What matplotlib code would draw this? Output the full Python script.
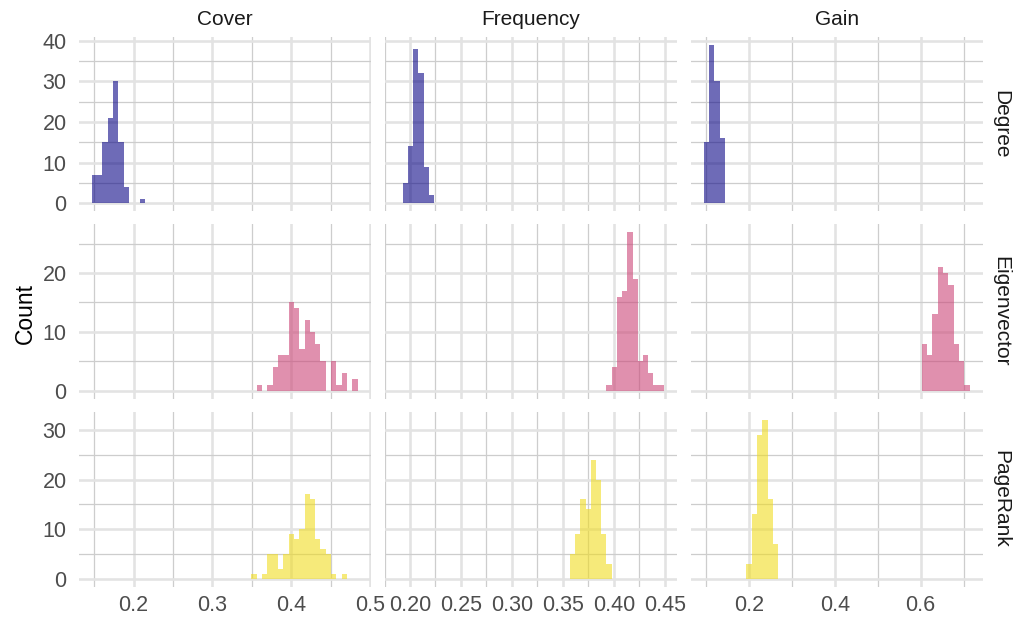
import matplotlib
matplotlib.use("Agg")
import matplotlib.pyplot as plt
import numpy as np

# ---------------- data ----------------
rows = ["Degree", "Eigenvector", "PageRank"]
cols = ["Cover", "Frequency", "Gain"]
row_colors = ["#0D0887", "#CC4678", "#F0DC22"]

n_bins = 50
bin_start = {"Cover": 0.14703, "Frequency": 0.19294, "Gain": 0.09416}
bin_width = {"Cover": 0.006746, "Frequency": 0.005122, "Gain": 0.012405}

# (first bin index, counts)
degree_cover = (0, [7, 7, 15, 21, 30, 15, 4, 0, 0, 1])
degree_frequency = (0, [5, 14, 38, 32, 9, 2])
degree_gain = (0, [15, 39, 30, 16])

eigen_cover = (31, [1, 0, 1, 4, 6, 6, 15, 14, 7, 12, 10, 8, 5, 0, 5, 1, 3, 0, 2])
eigen_frequency = (39, [1, 4, 16, 17, 27, 19, 5, 6, 3, 1, 1])
eigen_gain = (41, [8, 6, 13, 21, 20, 18, 8, 5, 1])

pagerank_cover = (30, [1, 0, 1, 5, 5, 2, 5, 9, 8, 10, 17, 16, 8, 6, 5, 1, 0, 1])
pagerank_frequency = (32, [5, 9, 16, 14, 24, 20, 9, 3])
pagerank_gain = (8, [3, 13, 29, 32, 16, 7])

panels = {
    ("Degree", "Cover"): degree_cover,
    ("Degree", "Frequency"): degree_frequency,
    ("Degree", "Gain"): degree_gain,
    ("Eigenvector", "Cover"): eigen_cover,
    ("Eigenvector", "Frequency"): eigen_frequency,
    ("Eigenvector", "Gain"): eigen_gain,
    ("PageRank", "Cover"): pagerank_cover,
    ("PageRank", "Frequency"): pagerank_frequency,
    ("PageRank", "Gain"): pagerank_gain,
}

x_major = {"Cover": [0.2, 0.3, 0.4, 0.5],
           "Frequency": [0.20, 0.25, 0.30, 0.35, 0.40, 0.45],
           "Gain": [0.2, 0.4, 0.6]}
x_minor = {"Cover": [0.15, 0.25, 0.35, 0.45],
           "Frequency": [0.175, 0.225, 0.275, 0.325, 0.375, 0.425],
           "Gain": [0.1, 0.3, 0.5, 0.7]}
x_labels = {"Cover": ["0.2", "0.3", "0.4", "0.5"],
            "Frequency": ["0.20", "0.25", "0.30", "0.35", "0.40", "0.45"],
            "Gain": ["0.2", "0.4", "0.6"]}
y_major = {"Degree": [0, 10, 20, 30, 40], "Eigenvector": [0, 10, 20],
           "PageRank": [0, 10, 20, 30]}
y_minor = {"Degree": [5, 15, 25, 35], "Eigenvector": [5, 15, 25],
           "PageRank": [5, 15, 25]}

# ---------------- layout ----------------
plt.rcParams["font.family"] = ["Liberation Sans", "DejaVu Sans"]
W, H = 1014, 620
fig = plt.figure(figsize=(W / 100, H / 100), dpi=100)
fig.patch.set_facecolor("white")

col_left = [78.5, 384.5, 690.5]
col_w = 292.5
row_top = [36.8, 224.0, 412.1]
row_h = 174.5

# y max per row from data
row_max = {r: max(max(panels[(r, c)][1]) for c in cols) for r in rows}

for i, r in enumerate(rows):
    for j, c in enumerate(cols):
        ax = fig.add_axes([col_left[j] / W, 1 - (row_top[i] + row_h) / H,
                           col_w / W, row_h / H])
        ax.set_facecolor("white")
        for s in ax.spines.values():
            s.set_visible(False)
        first, counts = panels[(r, c)]
        w = bin_width[c]
        lefts = bin_start[c] + w * (first + np.arange(len(counts)))
        ax.bar(lefts, counts, width=w, align="edge", color=row_colors[i],
               alpha=0.6, linewidth=0, zorder=3)
        span = n_bins * w
        x0 = bin_start[c]
        ax.set_xlim(x0 - 0.05 * span, x0 + 1.05 * span)
        ym = row_max[r]
        ax.set_ylim(-0.05 * ym, 1.05 * ym)
        ax.set_xticks(x_major[c])
        ax.set_xticks(x_minor[c], minor=True)
        ax.set_yticks(y_major[r])
        ax.set_yticks(y_minor[r], minor=True)
        ax.grid(which="major", color="#e3e3e3", linewidth=1.9, zorder=0)
        ax.grid(which="minor", color="#cdcdcd", linewidth=0.9, zorder=0)
        ax.set_axisbelow(True)
        ax.tick_params(which="both", length=0)
        ax.tick_params(axis="y", pad=8.5, labelsize=15.5, labelcolor="#4d4d4d")
        ax.tick_params(axis="x", pad=6.0, labelsize=15.5, labelcolor="#4d4d4d")
        if i == len(rows) - 1:
            ax.set_xticklabels(x_labels[c])
        else:
            ax.set_xticklabels([])
        if j == 0:
            ax.set_yticklabels([str(v) for v in y_major[r]])
        else:
            ax.set_yticklabels([])

# strip labels
for j, c in enumerate(cols):
    fig.text((col_left[j] + col_w / 2) / W, 1 - 25 / H, c, ha="center",
             va="baseline", fontsize=15, color="#1a1a1a")
for i, r in enumerate(rows):
    fig.text(995.5 / W, 1 - (row_top[i] + row_h / 2) / H, r, rotation=-90,
             rotation_mode="anchor", ha="center", va="baseline",
             fontsize=15, color="#1a1a1a")

fig.text(32 / W, 1 - 314 / H, "Count", rotation=90, rotation_mode="anchor",
         ha="center", va="baseline", fontsize=16.5, color="black")

fig.savefig("out.png", dpi=100, facecolor="white")
